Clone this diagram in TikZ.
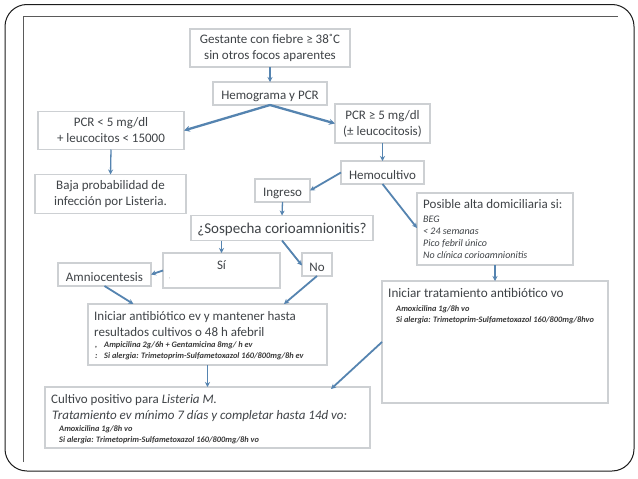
\documentclass[tikz,border=0pt]{standalone}
\usepackage{fontspec}
\setmainfont{Carlito}
\usetikzlibrary{arrows.meta,calc}
\definecolor{boxline}{HTML}{CDD0D3}
\definecolor{boxtext}{HTML}{3F4347}
\definecolor{arrowblue}{HTML}{5584B0}
\definecolor{frameline}{HTML}{1C1C1C}
\definecolor{innerline}{HTML}{5A5A5A}
\tikzset{
  x=1pt,y=-1pt,
  box/.style={draw=boxline,line width=1.3pt,fill=white,text=boxtext,inner sep=0pt,outer sep=0pt,align=center,font=\fontsize{13}{16}\selectfont,execute at begin node={\rule{0pt}{14pt}}},
  emptybox/.style={draw=boxline,line width=1.3pt,fill=white,inner sep=0pt,outer sep=0pt},
  txt/.style={anchor=base west,inner sep=0pt,text=boxtext,font=\fontsize{13}{16}\selectfont},
  fine/.style={anchor=base west,inner sep=0pt,text=black!78,font=\fontsize{8.35}{10}\selectfont\bfseries\itshape},
  note/.style={anchor=base west,inner sep=0pt,text=boxtext,font=\fontsize{10}{12}\selectfont\itshape},
  conn/.style={draw=arrowblue,line width=1.8pt,-{Stealth[length=5pt,width=5pt]}},
  thickconn/.style={conn,line width=2.3pt,-{Stealth[length=6pt,width=6pt]}},
  thinconn/.style={conn,line width=1.3pt},
}
\begin{document}
\begin{tikzpicture}
\useasboundingbox (0,0) rectangle (638,479);
\fill[white] (0,0) rectangle (638,479);
% slide frame
\coordinate (fa) at (5,4.5);
\coordinate (fb) at (634,471);
\draw[frameline,line width=1pt,rounded corners=22pt] (fa) rectangle (fb);
\coordinate (ia) at (23,462);
\coordinate (ib) at (23,16.5);
\coordinate (ic) at (618,16.5);
\draw[innerline,line width=1pt] (ia) -- (ib) -- (ic);
% boxes
\node[box,minimum width=160pt,minimum height=38pt] (g) at (270,48) {Gestante con fiebre ≥ 38˚C\\sin otros focos aparentes};
\node[box,minimum width=114pt,minimum height=23pt] (h) at (270,93.5) {Hemograma y PCR};
\node[box,minimum width=146pt,minimum height=38pt] (lo) at (111,130.5) {PCR < 5 mg/dl\\+ leucocitos < 15000};
\node[box,minimum width=151pt,minimum height=39pt] (baja) at (110.5,194) {Baja probabilidad de\\infección por Listeria.};
\node[box,minimum width=95pt,minimum height=39pt] (hi) at (382.5,123.5) {PCR ≥ 5 mg/dl\\(± leucocitosis)};
\node[box,minimum width=83pt,minimum height=23pt] (hc) at (382.5,172.5) {Hemocultivo};
\node[box,minimum width=55pt,minimum height=23pt] (ing) at (282.5,190.5) {Ingreso};
\node[box,minimum width=182pt,minimum height=25pt,font=\fontsize{15}{18}\selectfont] (sos) at (282,228) {¿Sospecha corioamnionitis?};
\node[box,minimum width=30pt,minimum height=23pt] (no) at (317,264.5) {No};
\node[box,minimum width=93pt,minimum height=23pt] (am) at (104.5,274.5) {Amniocentesis};
% Si
\node[emptybox,minimum width=117pt,minimum height=35pt] (si) at (221.5,270.5) {};
\node[txt,anchor=base] (sit) at (221.5,269) {Sí};
\node[fine,text=black!50,font=\fontsize{5}{6}\selectfont] (sim) at (169,278.5) {,};
% ev
\node[emptybox,minimum width=239pt,minimum height=61pt] (ev) at (207.5,334.5) {};
\node[txt] (ev1) at (94,320) {Iniciar antibiótico ev y mantener hasta};
\node[txt] (ev2) at (94,336) {resultados cultivos o 48 h afebril};
\node[fine] (ev3m) at (95,347) {,};
\node[fine] (ev3) at (104,347) {Ampicilina 2g/6h + Gentamicina 8mg/ h ev};
\node[fine] (ev4m) at (95,358) {:};
\node[fine] (ev4) at (104,358) {Si alergia: Trimetoprim-Sulfametoxazol 160/800mg/8h ev};
% cultivo
\node[emptybox,minimum width=325pt,minimum height=61pt] (cu) at (207.5,417.5) {};
\node[txt] (cu1) at (51,403) {Cultivo positivo para \textit{Listeria M.}};
\node[txt] (cu2) at (52,419) {\textit{Tratamiento ev mínimo 7 días y completar hasta 14d vo:}};
\node[fine] (cu3) at (59,431) {Amoxicilina 1g/8h vo};
\node[fine] (cu4) at (59,442) {Si alergia: Trimetoprim-Sulfametoxazol 160/800mg/8h vo};
% posible
\node[emptybox,minimum width=156pt,minimum height=72pt] (po) at (495,229) {};
\node[txt] (po1) at (423,208) {Posible alta domiciliaria si:};
\node[note] (po2) at (423,222) {BEG};
\node[note] (po3) at (423,234) {< 24 semanas};
\node[note] (po4) at (423,246) {Pico febril único};
\node[note] (po5) at (423,258) {No clínica corioamnionitis};
% vo
\node[emptybox,minimum width=226pt,minimum height=122pt] (vo) at (495,342) {};
\node[txt,font=\fontsize{13.2}{16}\selectfont] (vo1) at (388,297) {Iniciar tratamiento antibiótico vo};
\node[fine] (vo2) at (396,311) {Amoxicilina 1g/8h vo};
\node[fine] (vo3) at (396,322) {Si alergia: Trimetoprim-Sulfametoxazol 160/800mg/8hvo};
% connectors
\draw[thinconn] (g.south) -- (h.north);
\draw[thickconn] (h.south) -- (lo.east);
\draw[thickconn] (h.south) -- (hi.west);
\draw[thinconn] (lo.south) -- (baja.north);
\draw[thinconn] (hi.south) -- (hc.north);
\draw[conn] (hc.west) -- (ing.east);
\draw[conn] (hc.south) -- ($(po.west)+(0,-1)$);
\draw[thinconn] (ing.south) -- (sos.north);
\draw[thinconn] (sos.south -| si.north) -- (si.north);
\draw[conn] (sos.south) -- ($(no.west)+(0,1)$);
\draw[conn] (si.west) -- (am.east);
\draw[conn] (am.south) -- ($(ev.north west)!0.19!(ev.north east)$);
\draw[conn] (no.south) -- ($(ev.north west)!0.82!(ev.north east)$);
\draw[thinconn] (ev.south) -- (cu.north);
\draw[thinconn] (po.south) -- (vo.north);
\draw[conn] (vo.west) -- ($(cu.north east)+(-39,2)$);
\end{tikzpicture}
\end{document}
